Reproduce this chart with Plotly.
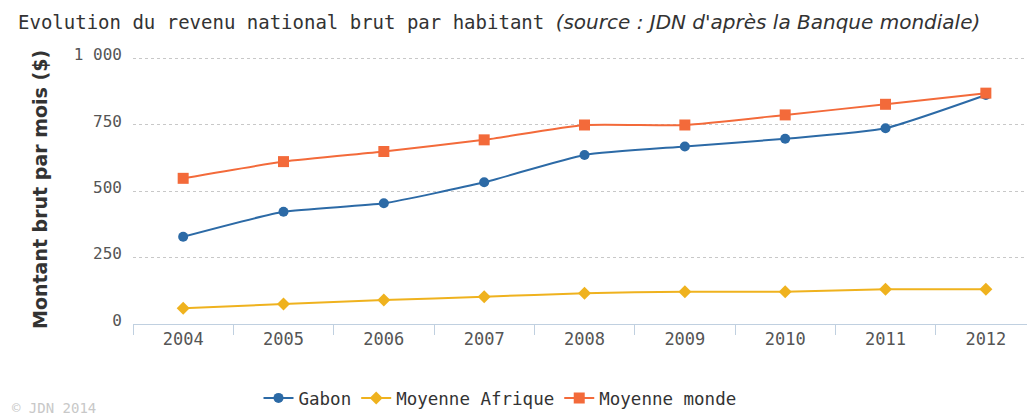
import plotly.graph_objects as go

years = ["2004", "2005", "2006", "2007", "2008", "2009", "2010", "2011", "2012"]
gabon = [329, 423, 455, 534, 637, 669, 698, 738, 863]
afrique = [59, 75, 90, 103, 116, 122, 122, 131, 131]
monde = [549, 612, 650, 694, 750, 750, 788, 828, 870]
y_ticks = [0, 250, 500, 750, 1000]

W, H = 1027, 418
L, R, T, B = 133, 0, 56, 94

fig = go.Figure()
series = [
    ("Gabon", gabon, "#2c6aa6", "circle", 10),
    ("Moyenne Afrique", afrique, "#efb21e", "diamond", 10),
    ("Moyenne monde", monde, "#f36a3a", "square", 11),
]
for name, vals, col, sym, sz in series:
    fig.add_trace(go.Scatter(
        x=years, y=vals, name=name, mode="lines+markers",
        line=dict(color=col, width=2, shape="spline", smoothing=0.5),
        marker=dict(color=col, symbol=sym, size=sz),
    ))

mono = "DejaVu Sans Mono"
fig.update_layout(
    width=W, height=H,
    margin=dict(l=L, r=R, t=T, b=B),
    paper_bgcolor="white", plot_bgcolor="white",
    separators=", ",
    title=dict(
        text="Evolution du revenu national brut par habitant "
             "<span style=\"font-family:'DejaVu Sans';font-style:italic;font-size:20px\">(source : JDN d'après la Banque mondiale)</span>",
        x=18 / W, xref="container", xanchor="left",
        y=1 - 22 / H, yref="container", yanchor="middle",
        font=dict(family=mono, size=19, color="#333333"),
    ),
    xaxis=dict(
        type="category", range=[-0.5, 8.41],
        tickson="boundaries", ticks="outside", ticklen=10, tickcolor="#c0d0e0",
        showline=True, linecolor="#c0d0e0", linewidth=1,
        showgrid=False,
        tickfont=dict(family=mono, size=17, color="#555555"),
        fixedrange=True,
    ),
    yaxis=dict(
        range=[0, 1010], tickvals=y_ticks, tickformat=",d",
        showgrid=True, gridcolor="#c8c8c8", griddash="dot", gridwidth=1,
        zeroline=False, showline=False, ticks="",
        tickfont=dict(family=mono, size=16, color="#555555"),
        ticklabelstandoff=10, ticklabelshift=-4,
    ),
    legend=dict(
        orientation="h", xref="container", yref="container",
        x=500 / W, xanchor="center", y=1 - 398 / H, yanchor="middle",
        font=dict(family=mono, size=17.5, color="#333333"),
        itemwidth=30, tracegroupgap=0,
    ),
    annotations=[
        dict(text="<b>Montant brut par mois ($)</b>", textangle=-90,
             xref="paper", yref="paper", x=0, y=0.5, xanchor="center", yanchor="middle",
             xshift=40 - L, showarrow=False,
             font=dict(family="DejaVu Sans", size=19, color="#333333")),
        dict(text="© JDN 2014", xref="paper", yref="paper", x=0, y=0,
             xanchor="left", yanchor="middle", xshift=10 - L, yshift=-(408 - (H - B)),
             showarrow=False, font=dict(family=mono, size=14, color="#c8c8c8")),
    ],
)

fig.write_html("out.html")
